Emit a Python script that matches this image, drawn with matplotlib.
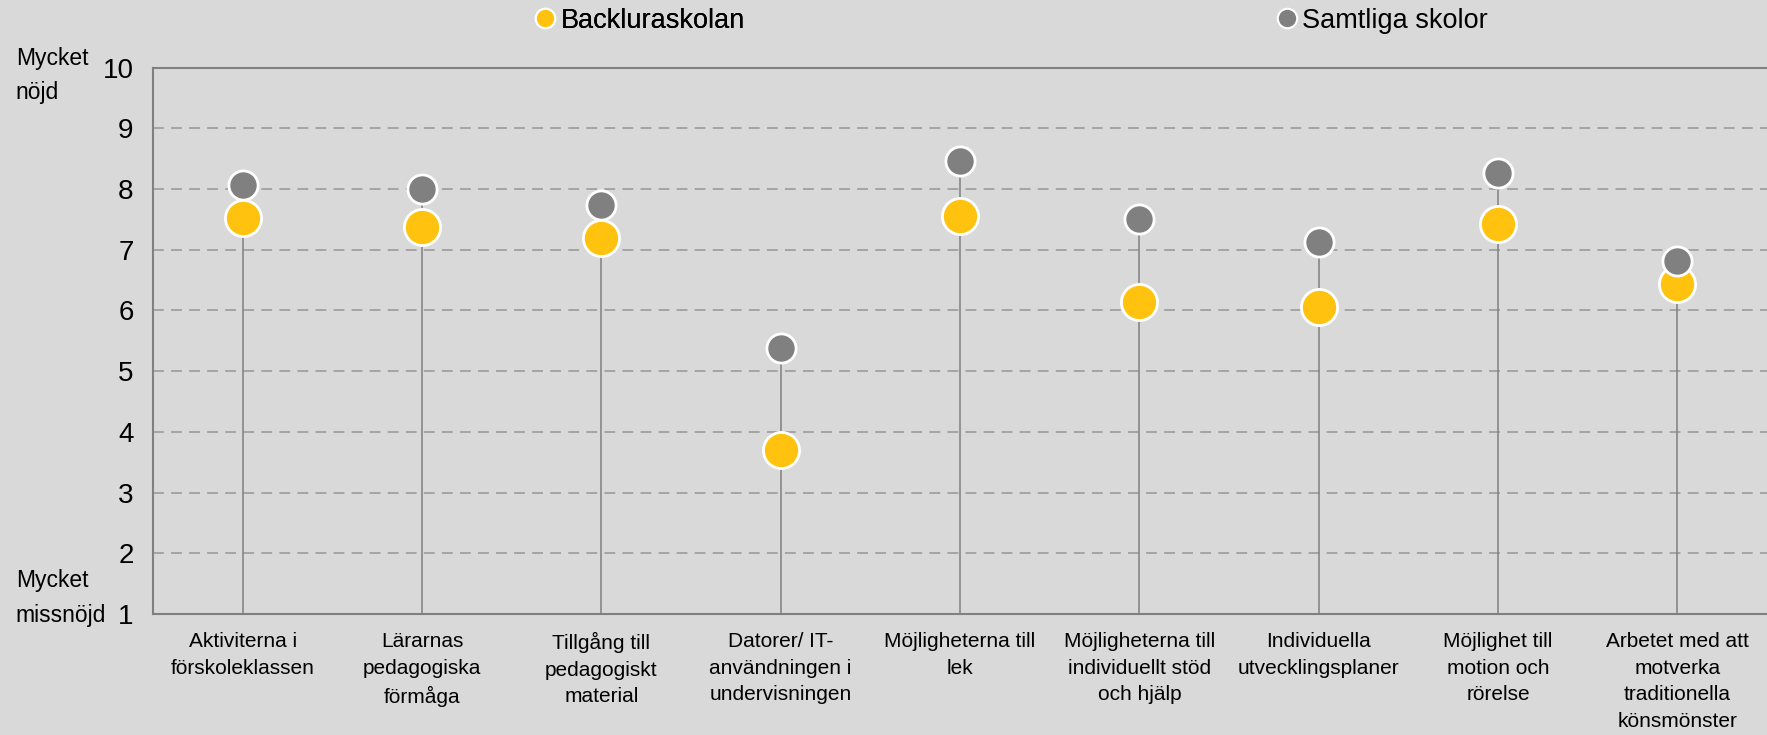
import numpy as np
import matplotlib.pyplot as plt
from matplotlib.lines import Line2D
import matplotlib.transforms as mtransforms

plt.rcParams['font.family'] = ['Liberation Sans', 'DejaVu Sans']

categories = [
    'Aktiviterna i\nförskoleklassen',
    'Lärarnas\npedagogiska\nförmåga',
    'Tillgång till\npedagogiskt\nmaterial',
    'Datorer/ IT-\nanvändningen i\nundervisningen',
    'Möjligheterna till\nlek',
    'Möjligheterna till\nindividuellt stöd\noch hjälp',
    'Individuella\nutvecklingsplaner',
    'Möjlighet till\nmotion och\nrörelse',
    'Arbetet med att\nmotverka\ntraditionella\nkönsmönster',
]
skolan = [7.53, 7.38, 7.20, 3.71, 7.55, 6.14, 6.05, 7.42, 6.44]
samtliga = [8.07, 8.00, 7.74, 5.38, 8.46, 7.50, 7.12, 8.26, 6.81]
series_names = ['Backluraskolan', 'Samtliga skolor']
yticks = [1, 2, 3, 4, 5, 6, 7, 8, 9, 10]

bg = '#d9d9d9'
yellow = '#ffc20e'
grey = '#808080'

fig = plt.figure(figsize=(17.67, 7.35), dpi=100, facecolor=bg)
ax = fig.add_axes([0.0866, 0.1645, 0.9134, 0.7435])
ax.set_facecolor(bg)

x = np.arange(len(categories))

# dashed gridlines
for v in yticks[1:-1]:
    ax.axhline(v, color='#a0a0a0', linewidth=1.3, linestyle=(0, (6, 4)), zorder=1)

# stems
top = np.maximum(skolan, samtliga)
ax.vlines(x, 1, top, color=grey, linewidth=1.1, zorder=2)

ax.plot(x, skolan, 'o', color=yellow, markersize=26, markeredgecolor='white',
        markeredgewidth=2, zorder=3, linestyle='none')
ax.plot(x, samtliga, 'o', color=grey, markersize=21, markeredgecolor='white',
        markeredgewidth=2, zorder=4, linestyle='none')

ax.set_xlim(-0.5, len(categories) - 0.5)
ax.set_ylim(1, 10)
ax.set_yticks(yticks)
ax.set_yticklabels([str(t) for t in yticks], fontsize=20)
ax.set_xticks(x)
ax.set_xticklabels(categories, fontsize=15, linespacing=1.5, va='top')
ax.tick_params(axis='y', length=0, pad=14)
ax.tick_params(axis='x', length=0, pad=13)

for s in ['left', 'bottom', 'top']:
    ax.spines[s].set_color(grey)
    ax.spines[s].set_linewidth(1.5)
ax.spines['right'].set_visible(False)

# end labels on the y axis
trans = mtransforms.blended_transform_factory(fig.transFigure, ax.transData)
ax.text(0.009, 9.87, 'Mycket\nnöjd', transform=trans, fontsize=16.5,
        ha='left', va='center', linespacing=1.65)
ax.text(0.009, 1.26, 'Mycket\nmissnöjd', transform=trans, fontsize=16.5,
        ha='left', va='center', linespacing=1.65)

# legend entries
h1 = Line2D([], [], marker='o', color=yellow, markersize=14, markeredgecolor='white',
            markeredgewidth=1.5, linestyle='none')
h2 = Line2D([], [], marker='o', color=grey, markersize=14, markeredgecolor='white',
            markeredgewidth=1.5, linestyle='none')
leg1 = fig.legend([h1], [series_names[0]], loc='center left', bbox_to_anchor=(0.301, 0.972),
                  frameon=False, fontsize=19.5, handletextpad=0.05, handlelength=1.0,
                  borderpad=0, borderaxespad=0)
fig.add_artist(leg1)
fig.legend([h2], [series_names[1]], loc='center left', bbox_to_anchor=(0.7205, 0.972),
           frameon=False, fontsize=19.5, handletextpad=0.05, handlelength=1.0,
           borderpad=0, borderaxespad=0)

fig.savefig('out.png', dpi=100, facecolor=bg)
